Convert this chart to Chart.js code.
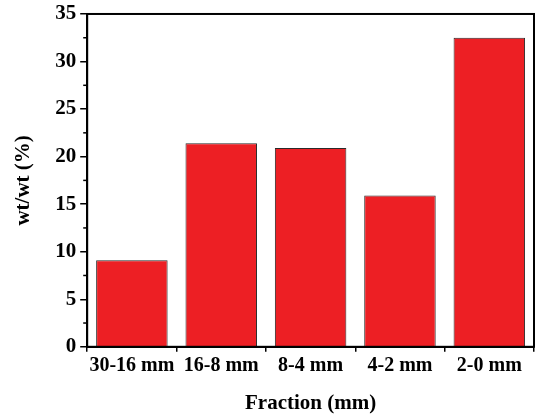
<!DOCTYPE html>
<html>
<head>
<meta charset="utf-8">
<script src="https://cdn.jsdelivr.net/npm/chart.js@4.4.1/dist/chart.umd.min.js"></script>
<style>
  html, body { margin: 0; padding: 0; background: #fff; }
  #wrap { width: 538px; height: 414px; }
</style>
</head>
<body>
<div id="wrap"><canvas id="myBarChart"></canvas></div>
<script>
var fractions = ["30-16 mm", "16-8 mm", "8-4 mm", "4-2 mm", "2-0 mm"];
var wtPercent = [9.1, 21.4, 20.9, 15.9, 32.5];
var yTicks = [0, 5, 10, 15, 20, 25, 30, 35];

// box around the plot + minor ticks on y
var frameBox = {
     id: 'frameBox',
     afterDraw: function (chart) {
          var ctx = chart.ctx;
          var a = chart.chartArea;
          var y = chart.scales.y;
          ctx.save();
          ctx.strokeStyle = '#000';
          ctx.lineWidth = 2;
          ctx.strokeRect(a.left, a.top, a.right - a.left, a.bottom - a.top);
          ctx.lineWidth = 1.5;
          for (var i = 0; i < yTicks.length - 1; i++) {
               var py = y.getPixelForValue((yTicks[i] + yTicks[i + 1]) / 2);
               ctx.beginPath();
               ctx.moveTo(a.left - 4, py);
               ctx.lineTo(a.left, py);
               ctx.stroke();
          }
          ctx.restore();
     }
};

var ctxB = document.getElementById('myBarChart').getContext('2d');
var myBarChart = new Chart(ctxB, {
     type: 'bar',
     data: {
          labels: fractions,
          datasets: [{
               data: wtPercent,
               backgroundColor: '#ED1F24',
               borderColor: '#2a2a2a',
               borderWidth: 1,
               categoryPercentage: 0.8,
               barPercentage: 1.0
          }]
     },
     options: {
          responsive: true,
          maintainAspectRatio: false,
          animation: false,
          layout: { padding: { top: 0, right: 4, left: 11, bottom: 0 } },
          plugins: {
               legend: { display: false },
               tooltip: { enabled: false }
          },
          scales: {
               x: {
                    offset: true,
                    grid: {
                         offset: true,
                         drawOnChartArea: false,
                         drawTicks: true,
                         tickLength: 5,
                         color: '#000',
                         lineWidth: 1.5
                    },
                    border: { display: true, color: '#000', width: 2 },
                    ticks: {
                         color: '#000',
                         padding: 2,
                         maxRotation: 0,
                         autoSkip: false,
                         font: { family: 'Liberation Serif', size: 20, weight: 'bold' }
                    },
                    title: {
                         display: true,
                         text: 'Fraction (mm)',
                         color: '#000',
                         padding: { top: 11, bottom: -2 },
                         font: { family: 'Liberation Serif', size: 21, weight: 'bold' }
                    }
               },
               y: {
                    min: 0,
                    max: 35,
                    afterBuildTicks: function (scale) {
                         scale.ticks = yTicks.map(function (v) { return { value: v }; });
                    },
                    grid: {
                         drawOnChartArea: false,
                         drawTicks: true,
                         tickLength: 7,
                         color: '#000',
                         lineWidth: 1.5
                    },
                    border: { display: true, color: '#000', width: 2 },
                    ticks: {
                         color: '#000',
                         padding: 4,
                         font: { family: 'Liberation Serif', size: 21, weight: 'bold', lineHeight: 0.95 }
                    },
                    title: {
                         display: true,
                         text: 'wt/wt (%)',
                         color: '#000',
                         padding: { top: 0, bottom: 15 },
                         font: { family: 'Liberation Serif', size: 21, weight: 'bold' }
                    }
               }
          }
     },
     plugins: [frameBox]
});
</script>
</body>
</html>
